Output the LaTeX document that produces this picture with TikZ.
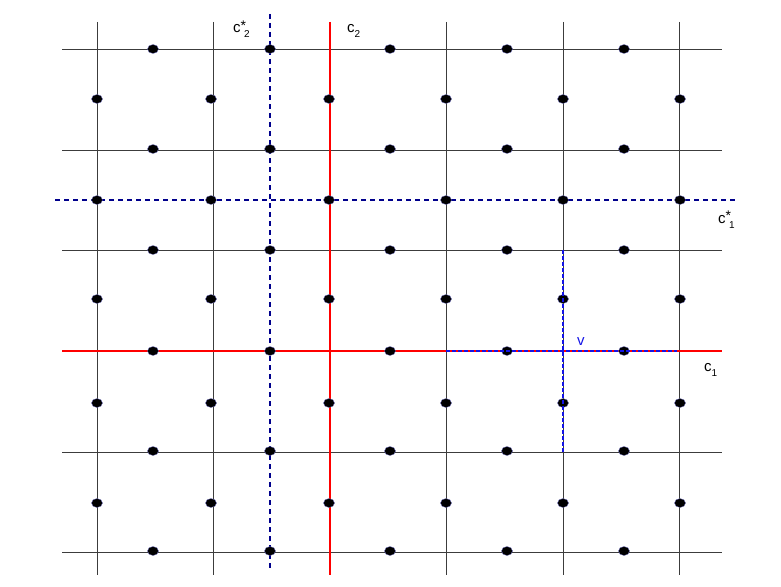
\documentclass[tikz,border=0pt]{standalone}
\usepackage{fontspec}
\setmainfont{Liberation Sans}
\usetikzlibrary{shapes.geometric}
\definecolor{navydash}{RGB}{0,0,140}
\definecolor{vblue}{RGB}{20,20,230}
\definecolor{gridgray}{RGB}{60,60,60}
\newcommand\latlabel[2]{c\raisebox{2.5pt}{\fontsize{14}{14}\selectfont #1}\kern-2pt\raisebox{-5pt}{\fontsize{10}{10}\selectfont #2}}
\begin{document}
\begin{tikzpicture}[x=1pt,y=-1pt,
  gridline/.style={line width=0.8pt, draw=gridgray},
  redline/.style={line width=1.8pt, draw=red},
  dualline/.style={line width=1.9pt, draw=navydash, dash pattern=on 5pt off 4pt},
  vline/.style={line width=2pt, draw=vblue, dash pattern=on 4pt off 2pt},
  dot/.style={ellipse, fill=black, draw=navydash!60, line width=0.3pt, minimum width=11pt, minimum height=9pt, inner sep=0pt},
  lab/.style={font=\fontsize{15}{17}\selectfont, inner sep=0pt, anchor=base west}]
\useasboundingbox (0,0) rectangle (781,586);
% thin grid lines
\foreach \x [count=\i] in {97,213,446,563,679}{
  \coordinate (vt\i) at (\x,22);
  \coordinate (vb\i) at (\x,575);
  \draw[gridline] (vt\i) -- (vb\i);
}
\foreach \y [count=\i] in {49,150,250,452,552}{
  \coordinate (hw\i) at (62,\y);
  \coordinate (he\i) at (722,\y);
  \draw[gridline] (hw\i) -- (he\i);
}
% red lines c1, c2
\coordinate (c1w) at (62,351);
\coordinate (c1e) at (722,351);
\coordinate (c2t) at (330,22);
\coordinate (c2b) at (330,575);
\draw[redline] (c1w) -- (c1e);
\draw[redline] (c2t) -- (c2b);
% dashed dual lines
\coordinate (d1w) at (55,200);
\coordinate (d1e) at (735,200);
\coordinate (d2t) at (270,14);
\coordinate (d2b) at (270,570);
\draw[dualline] (d1w) -- (d1e);
\draw[dualline] (d2t) -- (d2b);
% dots on horizontal lines (between columns)
\foreach \y [count=\j] in {49,149,250,351,451,551}{
  \foreach \x [count=\i] in {153,270,390,507,624}{
    \node[dot] (a\j-\i) at (\x,\y) {};
  }
}
% dots between horizontal lines (on columns)
\foreach \y [count=\j] in {99,200,299,403,503}{
  \foreach \x [count=\i] in {97,211,329,446,563,680}{
    \node[dot] (b\j-\i) at (\x,\y) {};
  }
}
% small blue dashed cross at v
\coordinate (vw) at (446,351);
\coordinate (ve) at (677,351);
\coordinate (vn) at (563,250);
\coordinate (vs) at (563,452);
\draw[vline] (vw) -- (ve);
\draw[vline] (vn) -- (vs);
% labels
\node[lab] (lc2s) at (233,33) {\latlabel{*}{2}};
\node[lab] (lc2) at (347,33) {c\raisebox{-5pt}{\fontsize{10}{10}\selectfont 2}};
\node[lab] (lc1s) at (718,223) {\latlabel{*}{1}};
\node[lab] (lc1) at (704,371) {c\raisebox{-5pt}{\fontsize{10}{10}\selectfont 1}};
\node[lab, text=vblue] (lv) at (577,345) {v};
\end{tikzpicture}
\end{document}
